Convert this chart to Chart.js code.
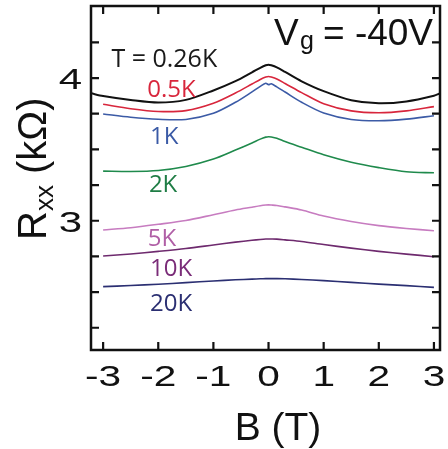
<!DOCTYPE html>
<html>
<head>
<meta charset="utf-8">
<script src="https://cdn.jsdelivr.net/npm/chart.js@4"></script>
<style>
  html, body { margin: 0; padding: 0; background: #fff; }
  #wrap { width: 448px; height: 449px; position: relative; }
</style>
</head>
<body>
<div id="wrap"><canvas id="rxxChart"></canvas></div>
<script>
// magnetic field sweep (T)
const bField = [-3.22, -3, -2.5, -2, -1.5, -1, -0.6, -0.3, -0.15, -0.05, 0, 0.05, 0.15, 0.3, 0.6, 1, 1.5, 2, 2.5, 3, 3.11];

// Rxx (kOhm) at each temperature, null where the trace was not recorded
const r026K = [3.893, 3.874, 3.846, 3.828, 3.847, 3.913, 3.978, 4.040, 4.072, 4.090, 4.094, 4.090, 4.075, 4.043, 3.977, 3.908, 3.845, 3.823, 3.836, 3.876, 3.893];
const r05K  = [null, 3.816, 3.785, 3.766, 3.772, 3.823, 3.895, 3.958, 3.990, 4.007, 4.011, 4.007, 3.993, 3.962, 3.898, 3.820, 3.770, 3.757, 3.770, 3.800, null];
const r1K   = [null, 3.748, 3.725, 3.711, 3.710, 3.753, 3.830, 3.903, 3.942, 3.963, 3.954, 3.960, 3.938, 3.902, 3.830, 3.755, 3.710, 3.701, 3.712, 3.736, null];
const r2K   = [null, 3.348, 3.345, 3.352, 3.380, 3.432, 3.495, 3.545, 3.572, 3.586, 3.589, 3.587, 3.578, 3.555, 3.515, 3.462, 3.410, 3.372, 3.343, 3.336, null];
const r5K   = [null, 2.935, 2.951, 2.975, 3.002, 3.042, 3.075, 3.095, 3.105, 3.110, 3.111, 3.110, 3.107, 3.097, 3.075, 3.033, 2.995, 2.966, 2.946, 2.930, null];
const r10K  = [null, 2.753, 2.767, 2.785, 2.805, 2.830, 2.850, 2.863, 2.869, 2.872, 2.872, 2.872, 2.871, 2.866, 2.855, 2.833, 2.808, 2.785, 2.766, 2.748, null];
const r20K  = [null, 2.538, 2.546, 2.555, 2.566, 2.578, 2.586, 2.591, 2.593, 2.594, 2.594, 2.594, 2.594, 2.593, 2.588, 2.580, 2.568, 2.556, 2.545, 2.533, null];

const tempLabels = ['T = 0.26K', '0.5K', '1K', '2K', '5K', '10K', '20K'];
const lineColors = ['#111111', '#d8263c', '#3c5ba6', '#1f8a4c', '#c77cc0', '#6e2a6e', '#2b2f72'];
const textColors = ['#1a1a1a', '#d8263c', '#3a5aa6', '#1f7d45', '#b05fa6', '#7a2c78', '#2b2f72'];

const xTicks = [-3, -2, -1, 0, 1, 2, 3];
const yTicks = [3, 4];
const yMinor = [2.25, 2.5, 2.75, 3, 3.25, 3.5, 3.75, 4, 4.25];

function toPoints(vals) {
  const pts = [];
  vals.forEach((v, i) => { if (v !== null) pts.push({ x: bField[i], y: v }); });
  return pts;
}

const allSeries = [r026K, r05K, r1K, r2K, r5K, r10K, r20K];
const datasets = allSeries.map((vals, i) => ({
  label: tempLabels[i],
  data: toPoints(vals),
  borderColor: lineColors[i],
  borderWidth: i === 0 ? 2 : 1.6,
  pointRadius: 0,
  tension: 0.3,
  fill: false
}));

// where each temperature tag sits: [B, Rxx] of its left/baseline corner, and max width
const tagAnchors = [[-2.85, 4.075], [-2.2, 3.865], [-2.15, 3.535], [-2.17, 3.2], [-2.19, 2.82], [-2.15, 2.61], [-2.15, 2.37]];
const tagWidths = [110, 52, 32, 32, 32, 46, 46];

const frame = {
  id: 'frame',
  afterDraw(chart) {
    const { ctx, chartArea: a, scales: { x, y } } = chart;
    ctx.save();

    // box
    ctx.strokeStyle = '#111';
    ctx.lineWidth = 2.5;
    ctx.strokeRect(a.left, a.top, a.right - a.left, a.bottom - a.top);

    // inward ticks
    const tl = 8;
    ctx.lineWidth = 2.2;
    ctx.beginPath();
    xTicks.forEach(t => {
      const px = x.getPixelForValue(t);
      ctx.moveTo(px, a.bottom); ctx.lineTo(px, a.bottom - tl);
      ctx.moveTo(px, a.top); ctx.lineTo(px, a.top + tl);
    });
    yMinor.forEach(t => {
      const py = y.getPixelForValue(t);
      ctx.moveTo(a.left, py); ctx.lineTo(a.left + tl, py);
      ctx.moveTo(a.right, py); ctx.lineTo(a.right - tl, py);
    });
    ctx.stroke();

    // tick labels (wide face)
    ctx.fillStyle = '#111';
    ctx.font = '29px "Liberation Sans", Arial, sans-serif';
    ctx.textBaseline = 'alphabetic';
    const sx = 1.4;
    xTicks.forEach(t => {
      const px = x.getPixelForValue(t);
      const w = ctx.measureText(String(t)).width * sx;
      ctx.save();
      ctx.translate(px - w / 2, a.bottom + 36);
      ctx.scale(sx, 1);
      ctx.fillText(String(t), 0, 0);
      ctx.restore();
    });
    ctx.font = '30px "Liberation Sans", Arial, sans-serif';
    yTicks.forEach(t => {
      const py = y.getPixelForValue(t);
      const w = ctx.measureText(String(t)).width * sx;
      ctx.save();
      ctx.translate(a.left - 9 - w, py + 11);
      ctx.scale(sx, 1);
      ctx.fillText(String(t), 0, 0);
      ctx.restore();
    });

    // axis titles
    ctx.font = '39px "Liberation Sans", Arial, sans-serif';
    ctx.textAlign = 'center';
    ctx.fillText('B (T)', 278, 440);

    ctx.save();
    ctx.translate(46, 240);
    ctx.rotate(-Math.PI / 2);
    ctx.textAlign = 'left';
    ctx.font = '40px "Liberation Sans", Arial, sans-serif';
    ctx.fillText('R', 0, 0);
    let cx = ctx.measureText('R').width;
    ctx.font = '26px "Liberation Sans", Arial, sans-serif';
    ctx.fillText('xx', cx, 7);
    cx += ctx.measureText('xx').width;
    ctx.font = '40px "Liberation Sans", Arial, sans-serif';
    ctx.fillText(' (k\u03A9)', cx, 0);
    ctx.restore();

    // gate voltage
    ctx.textAlign = 'left';
    ctx.font = '37px "Liberation Sans", Arial, sans-serif';
    ctx.fillText('V', 274, 45);
    ctx.font = '25px "Liberation Sans", Arial, sans-serif';
    ctx.fillText('g', 300, 49);
    ctx.font = '37px "Liberation Sans", Arial, sans-serif';
    ctx.fillText('= -40V', 323, 45);

    // temperature tags
    tempLabels.forEach((lab, i) => {
      ctx.font = (i === 0 ? '25px' : '24px') + ' "Open Sans", sans-serif';
      ctx.fillStyle = textColors[i];
      const [bx, ry] = tagAnchors[i];
      ctx.fillText(lab, x.getPixelForValue(bx), y.getPixelForValue(ry), tagWidths[i]);
    });

    ctx.restore();
  }
};

new Chart(document.getElementById('rxxChart'), {
  type: 'line',
  data: { datasets },
  options: {
    responsive: true,
    maintainAspectRatio: false,
    animation: false,
    layout: { padding: { left: 91, right: 8, top: 6, bottom: 99 } },
    plugins: { legend: { display: false }, tooltip: { enabled: false } },
    scales: {
      x: { type: 'linear', min: -3.22, max: 3.11, display: false },
      y: { type: 'linear', min: 2.094, max: 4.505, display: false }
    }
  },
  plugins: [frame]
});
</script>
</body>
</html>
